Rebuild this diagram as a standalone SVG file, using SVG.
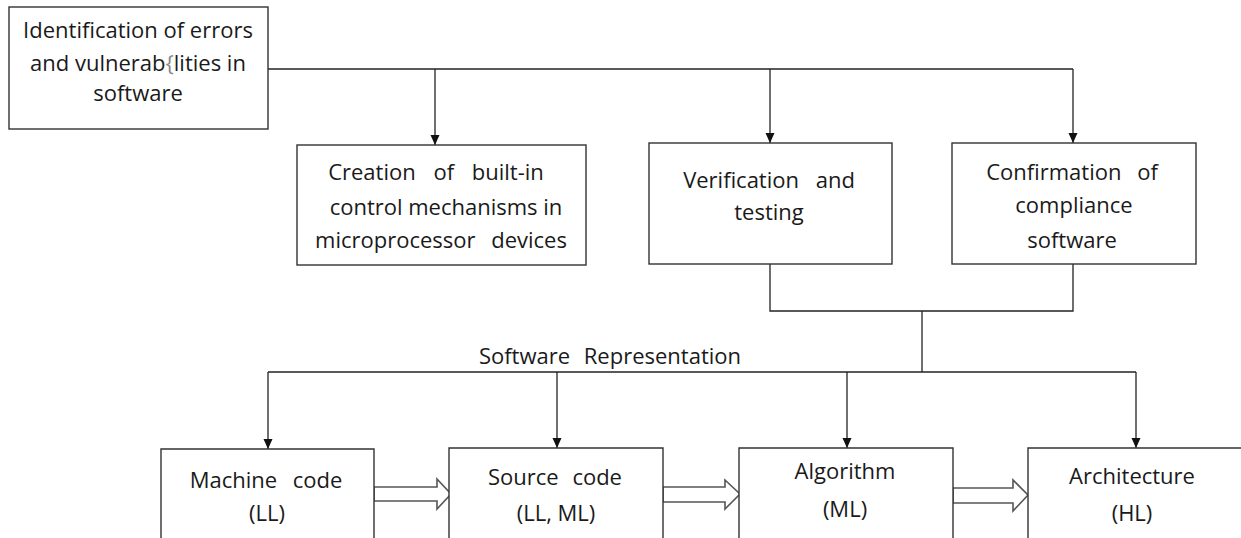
<svg xmlns="http://www.w3.org/2000/svg" width="1241" height="538" viewBox="0 0 1241 538">
<style>
.box{fill:#fff;stroke:#333;stroke-width:1.4}
.ln{fill:none;stroke:#222;stroke-width:1.3}
.blk{fill:#fff;stroke:#555;stroke-width:1.6}
text{font-family:"Open Sans","Noto Sans",sans-serif;font-size:22px;fill:#1a1a1a;text-anchor:middle}
</style>
<defs>
<marker id="ah" viewBox="0 0 10 10" refX="10" refY="5" markerWidth="10" markerHeight="10" markerUnits="userSpaceOnUse" orient="auto">
<path d="M0,0.5 L10,5 L0,9.5 Z" fill="#111"/>
</marker>
</defs>
<rect width="1241" height="538" fill="#fff"/>
<g id="connectors">
<path class="ln" d="M268,69 H1073"/>
<path class="ln" d="M435,69 V145" marker-end="url(#ah)"/>
<path class="ln" d="M770,69 V143" marker-end="url(#ah)"/>
<path class="ln" d="M1073,69 V143" marker-end="url(#ah)"/>
<path class="ln" d="M770,264 V311 H1073 V264"/>
<path class="ln" d="M922,311 V372"/>
<path class="ln" d="M268,372 H1136"/>
<path class="ln" d="M268,372 V449" marker-end="url(#ah)"/>
<path class="ln" d="M557,372 V448" marker-end="url(#ah)"/>
<path class="ln" d="M847,372 V448" marker-end="url(#ah)"/>
<path class="ln" d="M1136,372 V448" marker-end="url(#ah)"/>
<polygon class="blk" points="374,487 437,487 437,479 451,494 437,509 437,501 374,501"/>
<polygon class="blk" points="663,487 725,487 725,480 740,494 725,509 725,502 663,502"/>
<polygon class="blk" points="953,488 1013,488 1013,480 1028,495 1013,511 1013,503 953,503"/>
</g>
<text x="610" y="364" word-spacing="8">Software Representation</text>
<g id="n1">
<rect class="box" x="9" y="7" width="259" height="122"/>
<text x="138" y="38" font-size="21">Identification of errors</text>
<text x="138" y="71" font-size="21">and vulnerab<tspan fill="#888">{</tspan>lities in</text>
<text x="138" y="101" font-size="21">software</text>
</g>
<g id="n2">
<rect class="box" x="297" y="145" width="289" height="120"/>
<text x="436" y="180" word-spacing="12">Creation of built-in</text>
<text x="446" y="215">control mechanisms in</text>
<text x="441" y="248" word-spacing="10">microprocessor devices</text>
</g>
<g id="n3">
<rect class="box" x="649" y="143" width="243" height="121"/>
<text x="769" y="188" word-spacing="11">Verification and</text>
<text x="769" y="220">testing</text>
</g>
<g id="n4">
<rect class="box" x="952" y="143" width="244" height="121"/>
<text x="1072" y="180" word-spacing="10">Confirmation of</text>
<text x="1074" y="213">compliance</text>
<text x="1072" y="248">software</text>
</g>
<g id="n5">
<path class="box" d="M161,540 V449 H374 V540"/>
<text x="266" y="488" word-spacing="10">Machine code</text>
<text x="267" y="521">(LL)</text>
</g>
<g id="n6">
<path class="box" d="M449,540 V448 H663 V540"/>
<text x="555" y="485" word-spacing="8">Source code</text>
<text x="556" y="521">(LL, ML)</text>
</g>
<g id="n7">
<path class="box" d="M739,540 V448 H953 V540"/>
<text x="845" y="479">Algorithm</text>
<text x="845" y="517">(ML)</text>
</g>
<g id="n8">
<path class="box" d="M1028,540 V448 H1242"/>
<text x="1132" y="484">Architecture</text>
<text x="1132" y="521">(HL)</text>
</g>
</svg>
